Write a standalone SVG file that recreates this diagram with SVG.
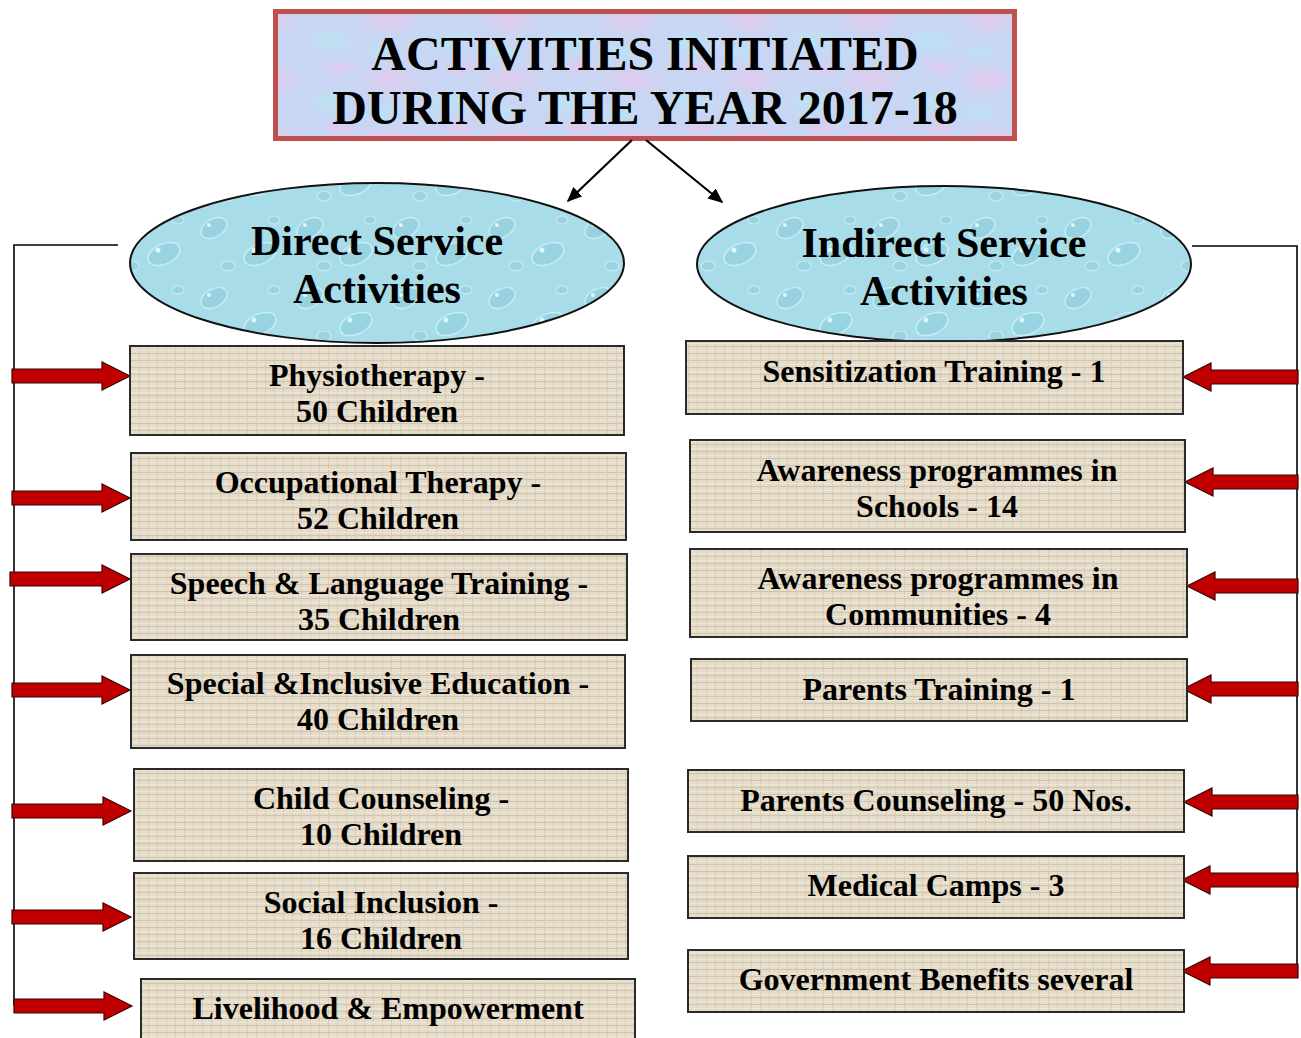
<svg xmlns="http://www.w3.org/2000/svg" width="1301" height="1038" viewBox="0 0 1301 1038">
  <defs>
    <style>
      .t{font-family:"Liberation Serif","Times New Roman",serif;font-weight:bold;fill:#000;text-anchor:middle}
      .title{font-size:48px}
      .oval{font-size:42px}
      .box{font-size:32px}
      .card{fill:url(#burlap);stroke:#2a2a2a;stroke-width:2}
      .ell{fill:url(#drops);stroke:#111;stroke-width:2}
      .blk{fill:#c00000;stroke:#3a0000;stroke-width:1.2;stroke-linejoin:miter}
      .wire{fill:none;stroke:#000;stroke-width:1.6}
      .pointer{fill:none;stroke:#000;stroke-width:2.2}
    </style>
    <!-- woven beige cloth for activity cards -->
    <pattern id="burlap" width="9" height="7" patternUnits="userSpaceOnUse">
      <rect width="9" height="7" fill="#e6dcca"/>
      <path d="M0 3.5H9" stroke="#cfc3ad" stroke-width="1"/>
      <path d="M4.5 0V7" stroke="#d6cab4" stroke-width="1"/>
      <path d="M0 0.5H9" stroke="#efe7d8" stroke-width="0.8"/>
    </pattern>
    <!-- water droplets for the two category ovals -->
    <pattern id="drops" width="96" height="70" patternUnits="userSpaceOnUse">
      <rect width="96" height="70" fill="#a8dce8"/>
      <ellipse cx="22" cy="18" rx="14" ry="9" fill="#96d2e0" stroke="#c6ecf4" stroke-width="1.5" transform="rotate(-30 22 18)"/>
      <ellipse cx="68" cy="44" rx="17" ry="10" fill="#98d3e1" stroke="#c9eef5" stroke-width="1.5" transform="rotate(-25 68 44)"/>
      <ellipse cx="36" cy="56" rx="7" ry="5" fill="#9ad4e2" stroke="#c6ecf4" stroke-width="1.2"/>
      <ellipse cx="82" cy="10" rx="6" ry="4" fill="#9ad4e2" stroke="#c6ecf4" stroke-width="1.2"/>
      <circle cx="17" cy="15" r="2" fill="#dff6fb"/>
      <circle cx="62" cy="40" r="2.5" fill="#dff6fb"/>
    </pattern>
    <!-- marbled pastel backdrop for the heading -->
    <radialGradient id="pinkBlob">
      <stop offset="0" stop-color="#e4c8ec" stop-opacity="0.9"/>
      <stop offset="1" stop-color="#e4c8ec" stop-opacity="0"/>
    </radialGradient>
    <radialGradient id="cyanBlob">
      <stop offset="0" stop-color="#b8e4f2" stop-opacity="0.9"/>
      <stop offset="1" stop-color="#b8e4f2" stop-opacity="0"/>
    </radialGradient>
    <pattern id="marble" width="120" height="60" patternUnits="userSpaceOnUse">
      <rect width="120" height="60" fill="#c9d6f3"/>
      <ellipse cx="30" cy="20" rx="34" ry="16" fill="url(#pinkBlob)"/>
      <ellipse cx="90" cy="42" rx="30" ry="16" fill="url(#cyanBlob)"/>
      <ellipse cx="100" cy="8" rx="20" ry="10" fill="url(#pinkBlob)"/>
      <ellipse cx="20" cy="52" rx="22" ry="10" fill="url(#cyanBlob)"/>
    </pattern>
    <marker id="head" viewBox="0 0 10 10" refX="9" refY="5" markerWidth="15" markerHeight="13" markerUnits="userSpaceOnUse" orient="auto" preserveAspectRatio="none">
      <path d="M0 0L10 5L0 10Z" fill="#000"/>
    </marker>
  </defs>

  <rect width="1301" height="1038" fill="#fff"/>

  <!-- heading -->
  <g id="heading">
    <rect x="275.5" y="11.5" width="739" height="127" fill="url(#marble)" stroke="#c0504d" stroke-width="5"/>
    <text class="t title" x="645" y="70">ACTIVITIES INITIATED</text>
    <text class="t title" x="645" y="124">DURING THE YEAR 2017-18</text>
  </g>

  <!-- connectors -->
  <g id="connectors">
    <line class="pointer" x1="632" y1="140" x2="568" y2="201" marker-end="url(#head)"/>
    <line class="pointer" x1="646" y1="140" x2="722" y2="202" marker-end="url(#head)"/>

    <polyline class="wire" points="118,245 14,245 14,1006"/>
    <polyline class="wire" points="1192,246 1297,246 1297,971"/>

    <!-- red block arrows, left column -->
    <path class="blk" d="M130 376L102 362V369H12V383H102V390Z"/>
    <path class="blk" d="M130 498L102 484V491H12V505H102V512Z"/>
    <path class="blk" d="M130 579L102 565V572H10V586H102V593Z"/>
    <path class="blk" d="M130 690L102 676V683H12V697H102V704Z"/>
    <path class="blk" d="M131 811L103 797V804H12V818H103V825Z"/>
    <path class="blk" d="M131 917L103 903V910H12V924H103V931Z"/>
    <path class="blk" d="M132 1006L104 992V999H14V1013H104V1020Z"/>

    <!-- red block arrows, right column -->
    <path class="blk" d="M1183 377L1211 363V370H1298V384H1211V391Z"/>
    <path class="blk" d="M1185 482L1213 468V475H1298V489H1213V496Z"/>
    <path class="blk" d="M1187 586L1215 572V579H1298V593H1215V600Z"/>
    <path class="blk" d="M1183 689L1211 675V682H1298V696H1211V703Z"/>
    <path class="blk" d="M1184 802L1212 788V795H1298V809H1212V816Z"/>
    <path class="blk" d="M1182 880L1210 866V873H1298V887H1210V894Z"/>
    <path class="blk" d="M1182 971L1210 957V964H1298V978H1210V985Z"/>
  </g>

  <!-- category ovals -->
  <g id="direct">
    <ellipse class="ell" cx="377" cy="263" rx="247" ry="80"/>
    <text class="t oval" x="377" y="255">Direct Service</text>
    <text class="t oval" x="377" y="303">Activities</text>
  </g>
  <g id="indirect">
    <ellipse class="ell" cx="944" cy="264" rx="247" ry="78"/>
    <text class="t oval" x="944" y="257">Indirect Service</text>
    <text class="t oval" x="944" y="305">Activities</text>
  </g>

  <!-- direct service cards -->
  <g id="physiotherapy">
    <rect class="card" x="130" y="346" width="494" height="89"/>
    <text class="t box" x="377" y="386">Physiotherapy -</text>
    <text class="t box" x="377" y="422">50 Children</text>
  </g>
  <g id="occupational">
    <rect class="card" x="131" y="453" width="495" height="87"/>
    <text class="t box" x="378" y="493">Occupational Therapy -</text>
    <text class="t box" x="378" y="529">52 Children</text>
  </g>
  <g id="speech">
    <rect class="card" x="131" y="554" width="496" height="86"/>
    <text class="t box" x="379" y="594">Speech &amp; Language Training -</text>
    <text class="t box" x="379" y="630">35 Children</text>
  </g>
  <g id="special-ed">
    <rect class="card" x="131" y="655" width="494" height="93"/>
    <text class="t box" x="378" y="694">Special &amp;Inclusive Education -</text>
    <text class="t box" x="378" y="730">40 Children</text>
  </g>
  <g id="child-counseling">
    <rect class="card" x="134" y="769" width="494" height="92"/>
    <text class="t box" x="381" y="809">Child Counseling -</text>
    <text class="t box" x="381" y="845">10 Children</text>
  </g>
  <g id="social-inclusion">
    <rect class="card" x="134" y="873" width="494" height="86"/>
    <text class="t box" x="381" y="913">Social Inclusion -</text>
    <text class="t box" x="381" y="949">16 Children</text>
  </g>
  <g id="livelihood">
    <rect class="card" x="141" y="979" width="494" height="70"/>
    <text class="t box" x="388" y="1019">Livelihood &amp; Empowerment</text>
  </g>

  <!-- indirect service cards -->
  <g id="sensitization">
    <rect class="card" x="686" y="341" width="497" height="73"/>
    <text class="t box" x="934" y="382">Sensitization Training - 1</text>
  </g>
  <g id="awareness-schools">
    <rect class="card" x="690" y="440" width="495" height="92"/>
    <text class="t box" x="937" y="481">Awareness programmes in</text>
    <text class="t box" x="937" y="517">Schools - 14</text>
  </g>
  <g id="awareness-communities">
    <rect class="card" x="690" y="549" width="497" height="88"/>
    <text class="t box" x="938" y="589">Awareness programmes in</text>
    <text class="t box" x="938" y="625">Communities - 4</text>
  </g>
  <g id="parents-training">
    <rect class="card" x="691" y="659" width="496" height="62"/>
    <text class="t box" x="939" y="700">Parents Training - 1</text>
  </g>
  <g id="parents-counseling">
    <rect class="card" x="688" y="770" width="496" height="62"/>
    <text class="t box" x="936" y="811">Parents Counseling - 50 Nos.</text>
  </g>
  <g id="medical-camps">
    <rect class="card" x="688" y="856" width="496" height="62"/>
    <text class="t box" x="936" y="896">Medical Camps - 3</text>
  </g>
  <g id="gov-benefits">
    <rect class="card" x="688" y="950" width="496" height="62"/>
    <text class="t box" x="936" y="990">Government Benefits several</text>
  </g>
</svg>
